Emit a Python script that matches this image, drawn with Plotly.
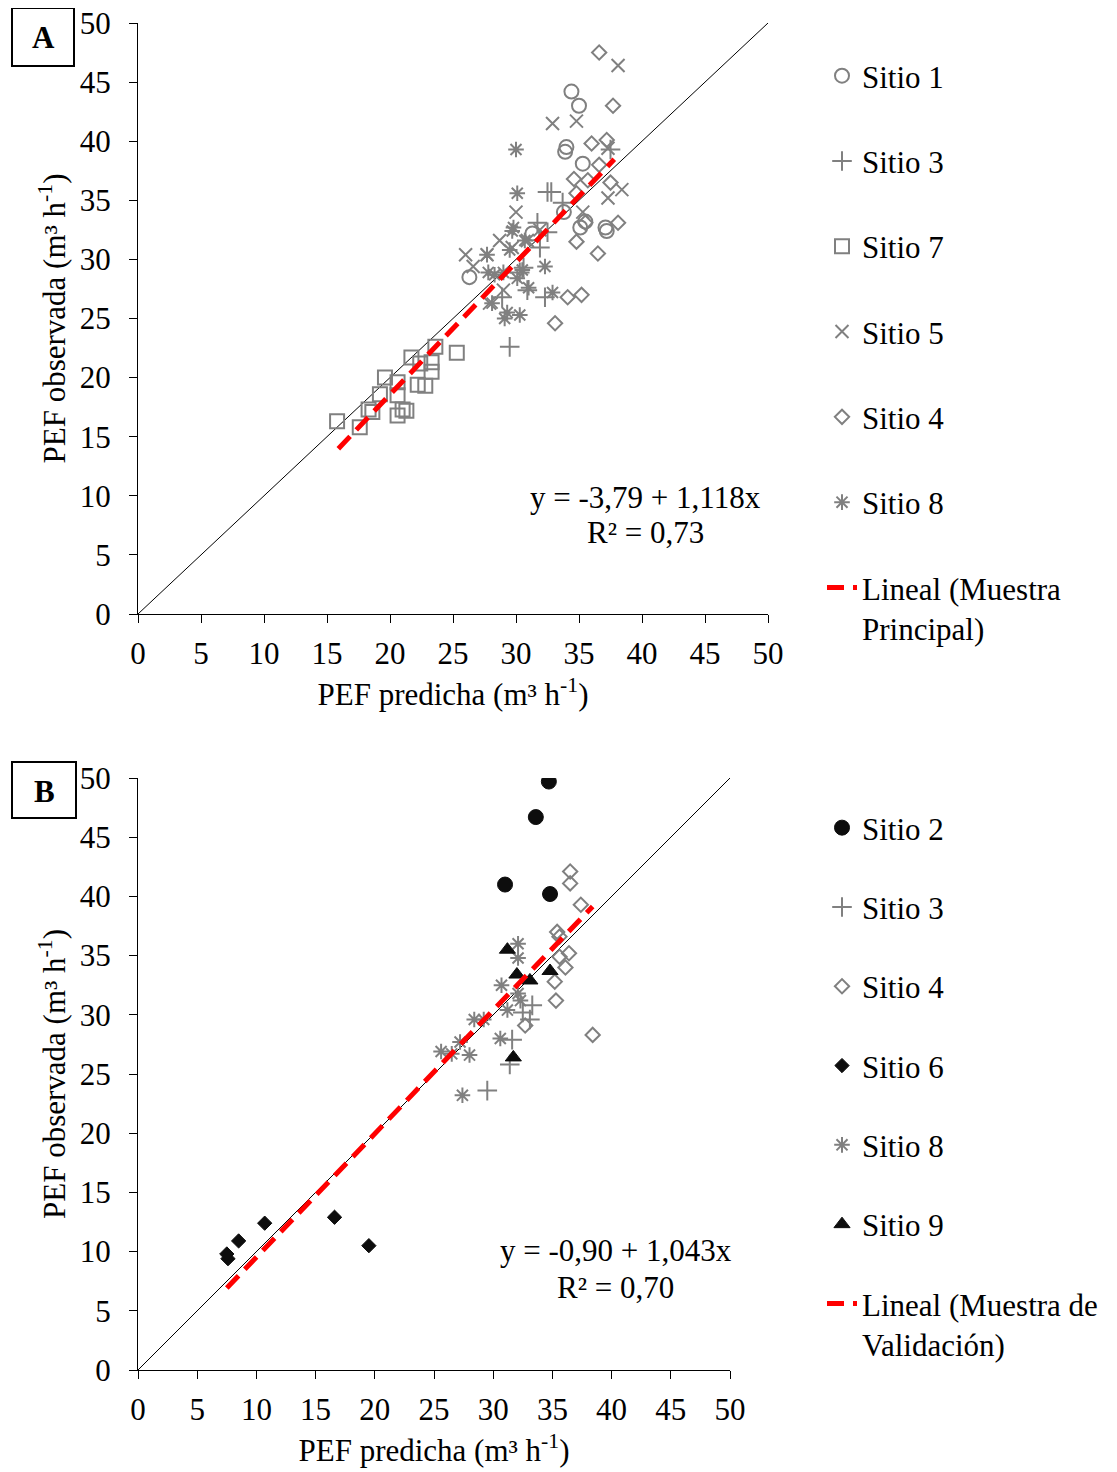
import plotly.graph_objects as go

# ---------------- Panel A data (Muestra Principal) ----------------
a_s1_x = [34.4, 35.0, 34.0, 33.9, 35.3, 33.8, 35.1, 37.1, 37.2, 31.3, 26.3, 35.5]
a_s1_y = [44.2, 43.0, 39.5, 39.1, 38.1, 34.0, 32.7, 32.7, 32.4, 32.2, 28.5, 33.2]

a_s3_x = [32.5, 32.8, 31.7, 32.5, 31.9, 30.6, 30.9, 32.3, 28.9, 30.3, 29.5, 37.5, 33.7]
a_s3_y = [35.7, 35.7, 33.1, 32.3, 31.0, 29.3, 27.4, 26.8, 26.8, 28.9, 22.6, 39.3, 34.8]

a_s7_x = [15.8, 17.6, 18.3, 18.6, 19.2, 19.6, 20.6, 20.6, 20.6, 21.0, 21.3, 21.7, 22.2, 22.8, 22.4, 23.3, 23.3, 23.6, 25.3]
a_s7_y = [16.3, 15.8, 17.3, 17.1, 18.6, 20.0, 18.5, 19.6, 16.8, 17.3, 17.2, 21.7, 19.4, 19.3, 21.2, 21.3, 20.5, 22.6, 22.1]

a_s5_x = [38.1, 32.9, 34.8, 38.4, 37.3, 35.3, 30.0, 26.0, 27.7, 28.7, 26.6, 29.7, 30.9, 27.9, 29.0, 37.3, 31.9]
a_s5_y = [46.4, 41.5, 41.7, 35.9, 35.2, 34.0, 34.0, 30.4, 30.4, 31.6, 29.4, 31.0, 31.6, 26.3, 27.4, 39.4, 32.5]

a_s4_x = [36.6, 37.7, 36.0, 37.2, 36.6, 34.6, 35.7, 37.5, 34.8, 38.1, 35.5, 34.8, 36.5, 34.1, 35.2, 33.1]
a_s4_y = [47.5, 43.0, 39.8, 40.1, 38.0, 36.8, 36.7, 36.5, 35.6, 33.1, 33.1, 31.5, 30.5, 26.8, 27.0, 24.6]

a_s8_x = [30.0, 30.1, 29.8, 29.7, 27.7, 29.5, 30.7, 30.5, 30.1, 32.3, 31.0, 32.9, 28.1, 29.3, 30.3, 29.1, 28.3, 29.0, 27.8]
a_s8_y = [39.3, 35.6, 32.7, 32.4, 30.4, 30.8, 31.6, 29.1, 28.4, 29.4, 27.6, 27.2, 26.3, 25.5, 25.3, 25.0, 28.7, 28.9, 28.9]

a_fit_intercept, a_fit_slope = -3.79, 1.118
a_fit_range = [15.9, 37.8]

# ---------------- Panel B data (Muestra de Validación) ----------------
b_s2_x = [34.7, 33.6, 31.0, 34.8]
b_s2_y = [49.7, 46.7, 41.0, 40.2]

b_s3_x = [33.3, 32.5, 33.1, 31.6, 31.4, 29.5]
b_s3_y = [30.8, 30.2, 29.6, 27.9, 25.8, 23.6]

b_s4_x = [36.5, 36.5, 37.4, 35.4, 35.6, 36.4, 35.6, 36.1, 35.2, 35.3, 32.7, 38.4]
b_s4_y = [42.1, 41.1, 39.3, 37.0, 36.6, 35.2, 34.9, 34.0, 32.8, 31.2, 29.1, 28.3]

b_s6_x = [7.6, 7.5, 8.5, 10.7, 16.6, 19.5]
b_s6_y = [9.4, 9.8, 10.9, 12.4, 12.9, 10.5]

b_s8_x = [32.1, 32.1, 30.7, 32.1, 31.2, 29.2, 28.4, 27.2, 28.0, 25.6, 26.5, 30.6, 27.4, 32.3]
b_s8_y = [36.0, 34.8, 32.5, 31.8, 30.4, 29.6, 29.6, 27.7, 26.6, 26.9, 26.7, 28.0, 23.2, 31.2]

b_s9_x = [31.2, 32.0, 33.1, 34.8, 31.7]
b_s9_y = [35.5, 33.4, 32.9, 33.7, 26.4]

b_fit_intercept, b_fit_slope = -0.90, 1.043
b_fit_range = [7.5, 38.4]

identity = [0, 50]
ticks = list(range(0, 51, 5))

FONT = "Times New Roman, Liberation Serif, serif"
GRAY = "#808080"
BLACK = "#0d0d0d"
FS = 31

W, H = 1117, 1472
OFF = 8  # page body margin offset
def px(xp): return (xp - OFF) / W
def py(yp): return 1 - (yp - OFF) / H

fig = go.Figure()

def open_marker(symbol, size):
    return dict(symbol=symbol, size=size, color=GRAY,
                line=dict(color=GRAY, width=2))

def filled_marker(symbol, size):
    return dict(symbol=symbol, size=size, color=BLACK, line=dict(color=BLACK, width=1))

DASH = "17px,9px"

# Panel A traces
fig.add_trace(go.Scatter(x=identity, y=identity, mode="lines", line=dict(color="black", width=1),
                         showlegend=False, xaxis="x", yaxis="y", hoverinfo="skip"))
for name, xs, ys, mk, grp in [
    ("Sitio 1", a_s1_x, a_s1_y, open_marker("circle-open", 14), "a1"),
    ("Sitio 3", a_s3_x, a_s3_y, open_marker("cross-thin-open", 14), "a2"),
    ("Sitio 7", a_s7_x, a_s7_y, open_marker("square-open", 14), "a3"),
    ("Sitio 5", a_s5_x, a_s5_y, open_marker("x-thin-open", 13), "a4"),
    ("Sitio 4", a_s4_x, a_s4_y, open_marker("diamond-open", 11), "a5"),
    ("Sitio 8", a_s8_x, a_s8_y, open_marker("asterisk-open", 13), "a6"),
]:
    fig.add_trace(go.Scatter(x=xs, y=ys, mode="markers", name=name, marker=mk,
                             xaxis="x", yaxis="y", legend="legend", legendgroup=grp))

a_fit_y = [a_fit_intercept + a_fit_slope * v for v in a_fit_range]
fig.add_trace(go.Scatter(x=a_fit_range, y=a_fit_y, mode="lines",
                         name="Lineal (Muestra<br>Principal)",
                         line=dict(color="#ff0000", width=5, dash=DASH),
                         xaxis="x", yaxis="y", legend="legend", legendgroup="a7"))

# Panel B traces
fig.add_trace(go.Scatter(x=identity, y=identity, mode="lines", line=dict(color="black", width=1),
                         showlegend=False, xaxis="x2", yaxis="y2", hoverinfo="skip"))
for name, xs, ys, mk, grp in [
    ("Sitio 2", b_s2_x, b_s2_y, filled_marker("circle", 15), "b1"),
    ("Sitio 3", b_s3_x, b_s3_y, open_marker("cross-thin-open", 14), "b2"),
    ("Sitio 4", b_s4_x, b_s4_y, open_marker("diamond-open", 11), "b3"),
    ("Sitio 6", b_s6_x, b_s6_y, filled_marker("diamond", 11), "b4"),
    ("Sitio 8", b_s8_x, b_s8_y, open_marker("asterisk-open", 13), "b5"),
    ("Sitio 9", b_s9_x, b_s9_y, filled_marker("triangle-up", 14), "b6"),
]:
    fig.add_trace(go.Scatter(x=xs, y=ys, mode="markers", name=name, marker=mk,
                             xaxis="x2", yaxis="y2", legend="legend2", legendgroup=grp))

b_fit_y = [b_fit_intercept + b_fit_slope * v for v in b_fit_range]
fig.add_trace(go.Scatter(x=b_fit_range, y=b_fit_y, mode="lines",
                         name="Lineal (Muestra de<br>Validación)",
                         line=dict(color="#ff0000", width=5, dash=DASH),
                         xaxis="x2", yaxis="y2", legend="legend2", legendgroup="b7"))

axis_common = dict(range=[0, 50], tickvals=ticks, showgrid=False, zeroline=False,
                   showline=True, linecolor="black", linewidth=1.3, automargin=False,
                   ticks="outside", ticklen=8, tickcolor="black", tickwidth=1.3,
                   ticklabeloverflow="allow",
                   tickfont=dict(family=FONT, size=FS, color="black"))

xt = "PEF predicha (m³ h<sup>-1</sup>)"
yt = "PEF observada (m³ h<sup>-1</sup>)"

fig.update_layout(
    width=W, height=H, autosize=False,
    margin=dict(l=0, r=0, t=0, b=0, autoexpand=False),
    paper_bgcolor="white", plot_bgcolor="white",
    font=dict(family=FONT, size=FS, color="black"),
    xaxis=dict(domain=[px(138), px(768)], anchor="y",
               title=dict(text=xt, standoff=12, font=dict(family=FONT, size=FS)),
               ticklabelstandoff=4, **axis_common),
    yaxis=dict(domain=[py(614), py(23)], anchor="x",
               title=dict(text=yt, standoff=4, font=dict(family=FONT, size=FS)),
               ticklabelstandoff=12, **axis_common),
    xaxis2=dict(domain=[px(138), px(730)], anchor="y2",
                title=dict(text=xt, standoff=12, font=dict(family=FONT, size=FS)),
                ticklabelstandoff=4, **axis_common),
    yaxis2=dict(domain=[py(1370), py(778)], anchor="x2",
                title=dict(text=yt, standoff=4, font=dict(family=FONT, size=FS)),
                ticklabelstandoff=12, **axis_common),
    legend=dict(x=px(822), y=py(49), xanchor="left", yanchor="top",
                traceorder="grouped", tracegroupgap=42, valign="top",
                font=dict(family=FONT, size=FS, color="black"), bgcolor="rgba(0,0,0,0)"),
    legend2=dict(x=px(822), y=py(801), xanchor="left", yanchor="top",
                 traceorder="grouped", tracegroupgap=36, valign="top",
                 font=dict(family=FONT, size=FS, color="black"), bgcolor="rgba(0,0,0,0)"),
    shapes=[
        dict(type="rect", xref="paper", yref="paper", x0=px(12), x1=px(74), y0=py(66), y1=py(8),
             line=dict(color="black", width=2), fillcolor="white"),
        dict(type="rect", xref="paper", yref="paper", x0=px(12), x1=px(76), y0=py(818), y1=py(762),
             line=dict(color="black", width=2), fillcolor="white"),
    ],
    annotations=[
        dict(text="<b>A</b>", x=px(43), y=py(38), xref="paper", yref="paper",
             xanchor="center", yanchor="middle",
             showarrow=False, font=dict(family=FONT, size=FS, color="black")),
        dict(text="<b>B</b>", x=px(44), y=py(791), xref="paper", yref="paper",
             xanchor="center", yanchor="middle",
             showarrow=False, font=dict(family=FONT, size=FS, color="black")),
        dict(text="y = -3,79 + 1,118x", x=px(645), y=py(497), xref="paper", yref="paper",
             xanchor="center", yanchor="middle",
             showarrow=False, font=dict(family=FONT, size=FS, color="black")),
        dict(text="R² = 0,73", x=px(645), y=py(533), xref="paper", yref="paper",
             xanchor="center", yanchor="middle",
             showarrow=False, font=dict(family=FONT, size=FS, color="black")),
        dict(text="y = -0,90 + 1,043x", x=px(616), y=py(1250), xref="paper", yref="paper",
             xanchor="center", yanchor="middle",
             showarrow=False, font=dict(family=FONT, size=FS, color="black")),
        dict(text="R² = 0,70", x=px(616), y=py(1287), xref="paper", yref="paper",
             xanchor="center", yanchor="middle",
             showarrow=False, font=dict(family=FONT, size=FS, color="black")),
    ],
)

fig.write_html("out.html")
